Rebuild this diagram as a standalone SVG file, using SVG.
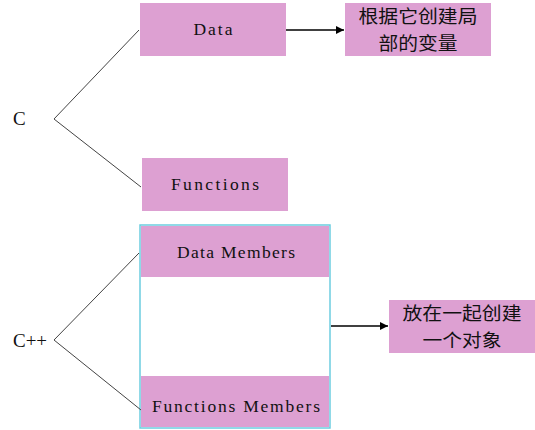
<svg xmlns="http://www.w3.org/2000/svg" width="535" height="430" viewBox="0 0 535 430">
<defs>
<style>
.box{fill:#DDA0D2;}
.lat{font-family:"Liberation Serif","DejaVu Serif",serif;font-size:17.5px;fill:#111;text-anchor:middle;}
.lbl{font-family:"Liberation Serif","DejaVu Serif",serif;font-size:19px;fill:#111;}
.cjk{font-family:"Noto Sans CJK SC","Noto Sans",sans-serif;font-size:18px;fill:#111;text-anchor:middle;}
.ln{stroke:#444;stroke-width:1;fill:none;}
.ar{stroke:#000;stroke-width:1.3;fill:none;marker-end:url(#ah);}
</style>
<marker id="ah" viewBox="0 0 10 10" refX="10" refY="5" markerWidth="8" markerHeight="8" markerUnits="userSpaceOnUse" orient="auto">
<path d="M0,0 L10,5 L0,10 z" fill="#000"/>
</marker>
</defs>
<rect width="535" height="430" fill="#fff"/>
<g id="label-c"><text class="lbl" x="13" y="125">C</text></g>
<g id="label-cpp"><text class="lbl" x="13" y="347" textLength="34" lengthAdjust="spacing">C++</text></g>
<g id="data"><rect class="box" x="140" y="3" width="146" height="53"/><text class="lat" x="213" y="35" textLength="39" lengthAdjust="spacing">Data</text></g>
<g id="local-var"><rect class="box" x="345" y="3" width="146" height="53"/><text class="cjk" x="418" y="23" textLength="119" lengthAdjust="spacingAndGlyphs">根据它创建局</text><text class="cjk" x="418" y="50" textLength="79" lengthAdjust="spacingAndGlyphs">部的变量</text></g>
<g id="functions"><rect class="box" x="142" y="158" width="146" height="53"/><text class="lat" x="215" y="190" textLength="88" lengthAdjust="spacing">Functions</text></g>
<g id="class-box"><rect x="140" y="225" width="190" height="203" fill="#fff" stroke="#6CCDE0" stroke-width="1.5"/>
<rect class="box" x="141" y="226" width="188" height="51"/><text class="lat" x="236" y="258" textLength="118" lengthAdjust="spacing">Data Members</text>
<rect class="box" x="141" y="376" width="188" height="51"/><text class="lat" x="236" y="412" textLength="168" lengthAdjust="spacing">Functions Members</text></g>
<g id="object"><rect class="box" x="389" y="300" width="146" height="53"/><text class="cjk" x="462" y="320" textLength="119" lengthAdjust="spacingAndGlyphs">放在一起创建</text><text class="cjk" x="462" y="347" textLength="79" lengthAdjust="spacingAndGlyphs">一个对象</text></g>
<g id="connectors">
<polyline class="ln" points="139,30 54,119 141,187"/>
<polyline class="ln" points="139,253 54,340 141,410"/>
<line class="ar" x1="286" y1="30" x2="344" y2="30"/>
<line class="ar" x1="331" y1="326" x2="388" y2="326"/>
</g>
</svg>
